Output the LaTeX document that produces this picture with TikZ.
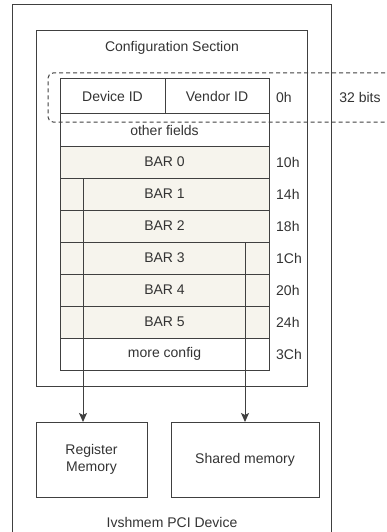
\documentclass[tikz,border=0pt]{standalone}
\usepackage{fontspec}
\setmainfont{Liberation Sans}
\usetikzlibrary{arrows.meta}
\definecolor{ink}{HTML}{333333}
\definecolor{edge}{HTML}{404040}
\definecolor{barfill}{HTML}{F6F4ED}
\begin{document}
\begin{tikzpicture}[x=1pt,y=-1pt,
  txt/.style={text=ink,font=\fontsize{14}{16.5}\selectfont},
  cell/.style={txt,draw=edge,line width=1pt,inner sep=0pt,outer sep=0pt,
    anchor=north west,minimum height=32pt,minimum width=209pt},
  bar/.style={cell,fill=barfill},
  offs/.style={txt,anchor=west,inner sep=0pt},
  frame/.style={draw=edge,line width=1pt},
  link/.style={draw=edge,line width=1pt,-{Stealth[length=9pt,width=8pt,inset=2pt]}}]
\useasboundingbox (0,0) rectangle (387,532);
\clip (0,0) rectangle (387,532);

% device frame and configuration section
\draw[frame] (12,5) rectangle (331,545);
\draw[frame] (36,31) rectangle (307,386);
\node[txt] (cfgtitle) at (172,48) {Configuration Section};
\node[txt] (devtitle) at (172,522) {Ivshmem PCI Device};

% configuration space rows
\node[cell,minimum width=105pt,minimum height=35pt] (devid) at (60,79) {Device ID};
\node[cell,minimum width=104pt,minimum height=35pt] (venid) at (165,79) {Vendor ID};
\node[cell] (other) at (60,114) {other fields};
\node[bar] (bar0) at (60,146) {BAR 0};
\node[bar] (bar1) at (60,178) {BAR 1};
\node[bar] (bar2) at (60,210) {BAR 2};
\node[bar] (bar3) at (60,242) {BAR 3};
\node[bar] (bar4) at (60,274) {BAR 4};
\node[bar] (bar5) at (60,306) {BAR 5};
\node[cell] (more) at (60,338) {more config};

% offsets
\node[offs] (o0) at (276,97) {0h};
\node[offs] (o10) at (276,162) {10h};
\node[offs] (o14) at (276,194) {14h};
\node[offs] (o18) at (276,226) {18h};
\node[offs] (o1c) at (276,258) {1Ch};
\node[offs] (o20) at (276,290) {20h};
\node[offs] (o24) at (276,322) {24h};
\node[offs] (o3c) at (276,354) {3Ch};

% memory regions
\node[cell,minimum width=111pt,minimum height=75pt,align=center] (regmem) at (36,422) {Register\\Memory};
\node[cell,minimum width=148pt,minimum height=75pt] (shmem) at (171,422) {Shared memory};

% BAR mappings
\coordinate (m0) at (83,179);
\coordinate (m2) at (245,242);
\draw[link] (m0) -- (m0 |- regmem.north);
\draw[link] (m2) -- (m2 |- shmem.north);

% 32-bit register width marker
\draw[draw=edge,line width=1pt,dash pattern=on 4pt off 3pt,rounded corners=5pt]
  (392,73) -- (48,73) -- (48,122) -- (392,122);
\node[txt] (width) at (360,97) {32 bits};
\end{tikzpicture}
\end{document}
